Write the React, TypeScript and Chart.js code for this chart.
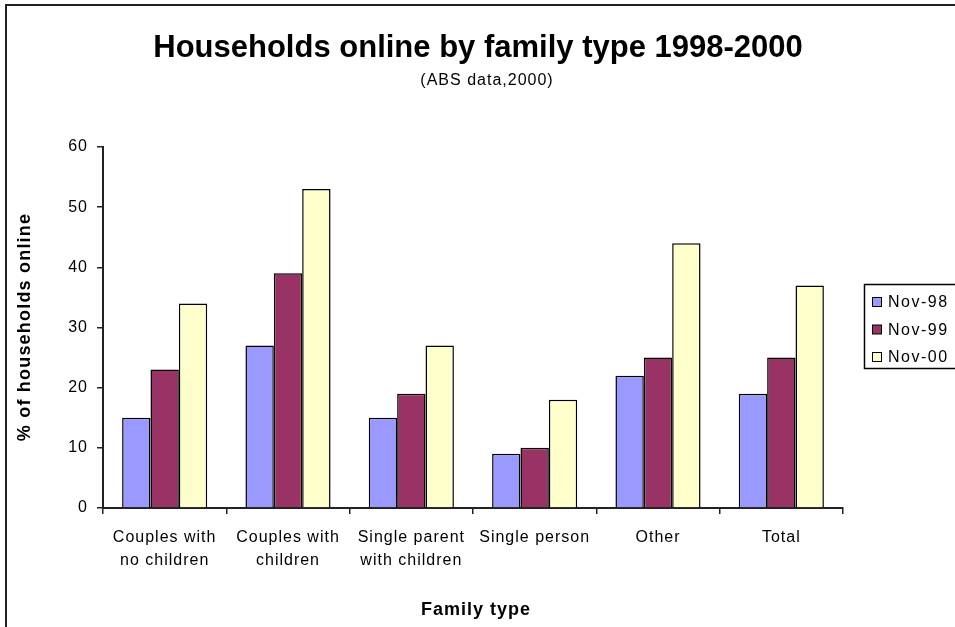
import React, { useEffect, useRef } from "react";
import { Chart, registerables } from "chart.js";

Chart.register(...registerables);

const categories: string[][] = [
  ["Couples with", "no children"],
  ["Couples with", "children"],
  ["Single parent", "with children"],
  ["Single person"],
  ["Other"],
  ["Total"],
];
const seriesNames = ["Nov-98", "Nov-99", "Nov-00"];
const nov98 = [15, 27, 15, 9, 22, 19];
const nov99 = [23, 39, 19, 10, 25, 25];
const nov00 = [34, 53, 27, 18, 44, 37];
const colors = ["#9999FF", "#993366", "#FFFFCC"];
const yTicks = [0, 10, 20, 30, 40, 50, 60];

const FONT = "'Liberation Sans', Arial, sans-serif";

const spacingPlugin = {
  id: "spacing",
  beforeInit(chart: any) {
    chart.ctx.letterSpacing = "1px";
  },
  beforeDraw(chart: any) {
    chart.ctx.letterSpacing = "1px";
  },
};

const decorPlugin = {
  id: "decor",
  afterDraw(chart: any) {
    const ctx = chart.ctx;
    ctx.save();
    ctx.letterSpacing = "0px";
    // outer border (top and left)
    ctx.strokeStyle = "#222";
    ctx.lineWidth = 2;
    ctx.beginPath();
    ctx.moveTo(6, 627);
    ctx.lineTo(6, 5);
    ctx.lineTo(955, 5);
    ctx.stroke();

    ctx.fillStyle = "#000";
    ctx.textAlign = "center";
    ctx.textBaseline = "middle";
    ctx.font = `bold 31px ${FONT}`;
    ctx.fillText("Households online by family type 1998-2000", 478, 48);
    ctx.letterSpacing = "1px";
    ctx.font = `16px ${FONT}`;
    ctx.fillText("(ABS data,2000)", 487, 81);

    ctx.font = `bold 18px ${FONT}`;
    ctx.letterSpacing = "1px";
    ctx.fillText("Family type", 476, 610);
    ctx.save();
    ctx.translate(25, 327);
    ctx.rotate(-Math.PI / 2);
    ctx.letterSpacing = "1.2px";
    ctx.fillText("% of households online", 0, 0);
    ctx.restore();

    // legend
    ctx.strokeStyle = "#000";
    ctx.lineWidth = 1.5;
    ctx.strokeRect(864.5, 284.5, 96, 84);
    ctx.font = `16px ${FONT}`;
    ctx.letterSpacing = "1.5px";
    ctx.textAlign = "left";
    seriesNames.forEach((n, i) => {
      const cy = 302 + i * 27.5;
      ctx.fillStyle = colors[i];
      ctx.fillRect(872, cy - 4.5, 9, 9);
      ctx.strokeStyle = "#000";
      ctx.lineWidth = 1;
      ctx.strokeRect(872.5, cy - 4.5, 9, 9);
      ctx.fillStyle = "#000";
      ctx.fillText(n, 888, cy + 1);
    });
    ctx.restore();
  },
};

export default function App() {
  const ref = useRef<HTMLCanvasElement>(null);
  useEffect(() => {
    if (!ref.current) return;
    const chart = new Chart(ref.current, {
      type: "bar",
      data: {
        labels: categories,
        datasets: [nov98, nov99, nov00].map((d, i) => ({
          label: seriesNames[i],
          data: d,
          backgroundColor: colors[i],
          borderColor: "#000",
          borderWidth: 1.5,
          categoryPercentage: 0.69,
          barPercentage: 1,
        })),
      },
      options: {
        responsive: false,
        animation: false,
        layout: { padding: { left: 0, top: 147, right: 112, bottom: 0 } },
        plugins: { legend: { display: false }, title: { display: false }, tooltip: { enabled: false } },
        scales: {
          x: {
            offset: true,
            grid: { offset: true, drawOnChartArea: false, drawTicks: true, tickLength: 6, color: "#222", lineWidth: 1.5 },
            border: { color: "#222", width: 2 },
            ticks: { color: "#000", font: { family: FONT, size: 16, lineHeight: 1.45 }, padding: 12, maxRotation: 0, autoSkip: false },
            afterFit: (s: any) => { s.height = 119; },
          },
          y: {
            min: 0,
            max: 60,
            afterBuildTicks: (s: any) => { s.ticks = yTicks.map((v) => ({ value: v })); },
            grid: { drawOnChartArea: false, drawTicks: true, tickLength: 6, color: "#222", lineWidth: 1.5 },
            border: { color: "#222", width: 2 },
            ticks: { color: "#000", font: { family: FONT, size: 16 }, padding: 9 },
            afterFit: (s: any) => { s.width = 103; },
          },
        },
      },
      plugins: [spacingPlugin, decorPlugin],
    });
    return () => chart.destroy();
  }, []);
  return (
    <div style={{ position: "fixed", left: 0, top: 0, width: 955, height: 627, background: "#fff" }}>
      <canvas ref={ref} width={955} height={627} style={{ display: "block" }} />
    </div>
  );
}
